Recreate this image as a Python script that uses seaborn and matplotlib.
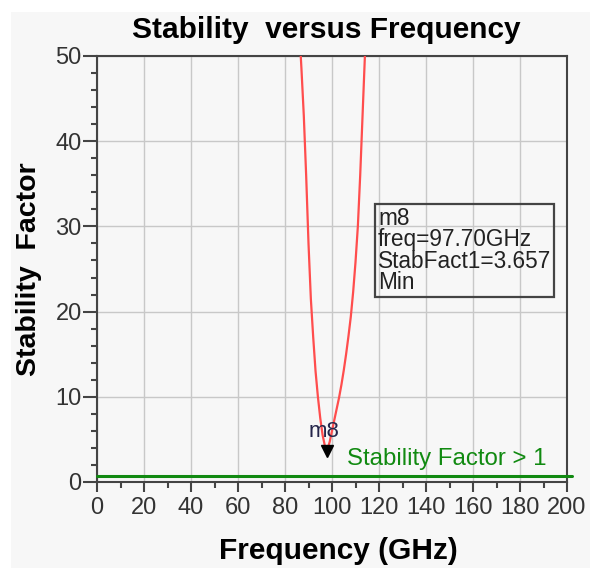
import matplotlib
matplotlib.use("Agg")
import matplotlib.pyplot as plt
from matplotlib.ticker import MultipleLocator
from matplotlib.patches import Rectangle
import seaborn as sns
import pandas as pd

# ---- data ----
freq_ghz = [85, 86, 87, 88, 89, 90, 91, 92, 93, 94, 95, 96, 97, 97.7, 98, 99,
            100, 101, 102, 103, 104, 105, 106, 107, 108, 109, 110, 111, 112,
            113, 114, 115, 116]
stab_fact = [59.0, 53.5, 48.5, 43.0, 36.0, 28.0, 21.5, 17.0, 13.0, 10.0, 7.5,
             5.5, 4.2, 3.657, 3.8, 4.7, 6.0, 7.3, 8.6, 9.9, 11.4, 13.1, 15.0,
             17.1, 19.4, 22.3, 25.8, 30.0, 36.0, 43.0, 50.0, 58.0, 66.0]
marker_freq = [97.7]
marker_stab = [3.657]
stability_limit = [0.7]
x_ticks = [0, 20, 40, 60, 80, 100, 120, 140, 160, 180, 200]
y_ticks = [0, 10, 20, 30, 40, 50]

df = pd.DataFrame({"freq": freq_ghz, "stab": stab_fact})

sns.set_style("ticks")
plt.rcParams["font.family"] = ["Liberation Sans", "DejaVu Sans"]

fig = plt.figure(figsize=(5.97, 5.77), dpi=100, facecolor="white")
fig.patches.append(Rectangle((11 / 597, 9 / 577), 579 / 597, 556 / 577,
                             transform=fig.transFigure, facecolor="#f7f7f7",
                             edgecolor="none", zorder=-10))
ax = fig.add_axes([97 / 597, 1 - 482 / 577, 470 / 597, 426 / 577])
ax.set_facecolor("#f7f7f7")

sns.lineplot(data=df, x="freq", y="stab", sort=False, color="#ff4d4d",
             linewidth=1.6, ax=ax, zorder=3)
ax.axhline(stability_limit[0], color="#118a11", linewidth=2.2, zorder=4,
           xmax=1.01, clip_on=False)
ax.plot(marker_freq, marker_stab, marker="v", color="black", markersize=8,
        linestyle="none", zorder=5)
ax.text(marker_freq[0] - 1.0, marker_stab[0] + 1.0, "m8", fontsize=16,
        color="#25254a", ha="center", va="bottom", zorder=6)

ax.text(119.6, 32.3,
        "m8\nfreq=%.2fGHz\nStabFact1=%.3f\nMin" % (marker_freq[0], marker_stab[0]),
        fontsize=16.3, color="#222222", ha="left", va="top", linespacing=0.92,
        bbox=dict(boxstyle="square,pad=0.12", facecolor="none",
                  edgecolor="#444444", linewidth=1.6), zorder=6)

ax.text(106.5, 1.4, "Stability Factor > 1", fontsize=17.3, color="#118a11",
        ha="left", va="bottom", zorder=6)

ax.set_xlim(0, 200)
ax.set_ylim(0, 50)
ax.set_xticks(x_ticks)
ax.set_yticks(y_ticks)
ax.xaxis.set_minor_locator(MultipleLocator(10))
ax.yaxis.set_minor_locator(MultipleLocator(2))
ax.grid(True, which="major", color="#c8c8c8", linewidth=1.0, zorder=0)
ax.set_axisbelow(True)

for s in ax.spines.values():
    s.set_color("#444444")
    s.set_linewidth(1.5)

ax.tick_params(axis="both", which="major", labelsize=17, labelcolor="#333333",
               color="#444444", width=1.5)
ax.tick_params(axis="y", which="major", length=10, pad=1)
ax.tick_params(axis="x", which="major", length=7, pad=4)
ax.tick_params(axis="both", which="minor", length=4, width=1.5, color="#444444")

ax.set_title("Stability  versus Frequency", fontsize=21.5, fontweight="bold",
             color="black", pad=13, x=0.487)
ax.set_xlabel("Frequency (GHz)", fontsize=21.5, fontweight="bold", color="black",
              labelpad=12)
ax.xaxis.set_label_coords(0.513, -0.13)
ax.set_ylabel("Stability  Factor", fontsize=20.5, fontweight="bold", color="black",
              labelpad=10)

fig.savefig("out.png", dpi=100, facecolor=fig.get_facecolor())
